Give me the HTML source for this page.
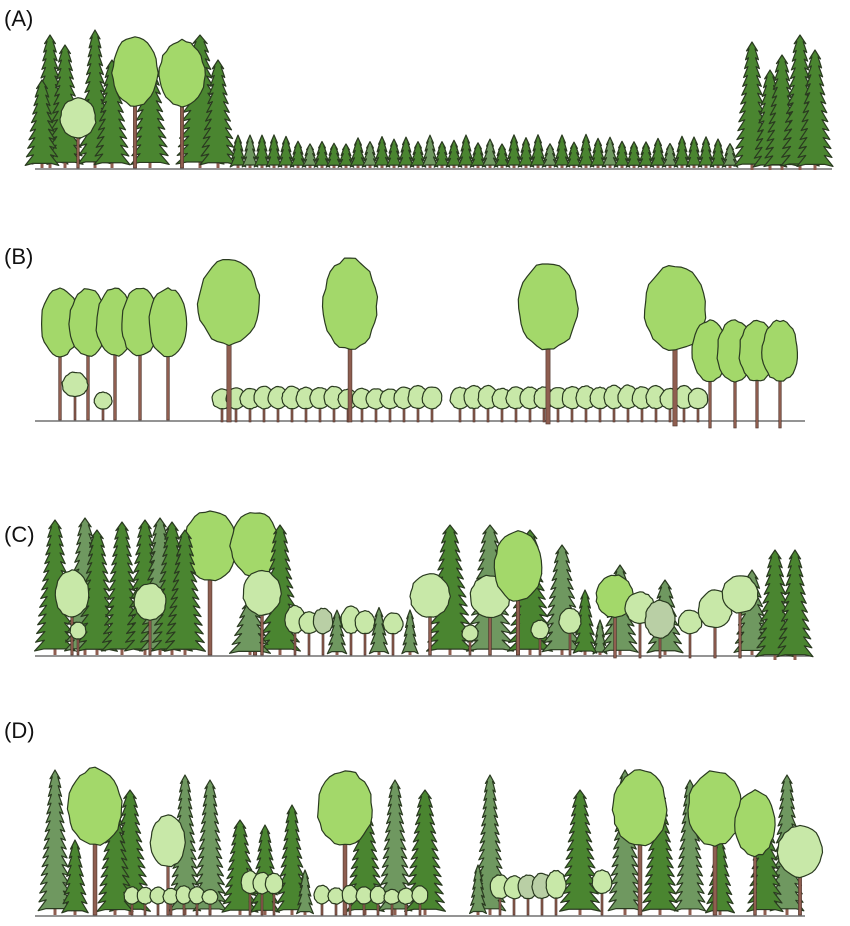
<!DOCTYPE html>
<html><head><meta charset="utf-8"><style>
html,body{margin:0;padding:0;background:#fff;width:850px;height:926px;overflow:hidden}
.lab{position:absolute;font-family:"Liberation Sans",sans-serif;font-size:22px;color:#111}
svg{position:absolute;left:0;top:0}
</style></head><body>
<div class="lab" style="left:4px;top:6px">(A)</div>
<div class="lab" style="left:4px;top:244px">(B)</div>
<div class="lab" style="left:4px;top:522px">(C)</div>
<div class="lab" style="left:4px;top:718px">(D)</div>
<svg id="s" width="850" height="926" xmlns="http://www.w3.org/2000/svg"></svg>
<script>
var S=document.getElementById('s'),out='';
var seed=7;function r(){seed=(seed*16807)%2147483647;return seed/2147483647;}
var DK='#4a8530',GR='#6f9860',DE='#a3d86a',PA='#c8e8a8',GP='#b9cfa5',TR='#8f5e50',OL='#2a3a20';
function con(x,g,top,w,f){w=w?w*1.2:Math.max(14,(g-top)*0.36);f=f||DK;var h=g-top,n=Math.max(4,Math.round(h/9)),L=[],R=[];
 for(var i=1;i<=n;i++){var y=top+h*i/n*0.97,ww=w/2*(0.25+0.75*i/n);L.push((x-ww)+','+y);L.push((x-ww*0.55)+','+(y-2));R.push((x+ww)+','+y);R.push((x+ww*0.55)+','+(y-2));}
 out+='<rect x="'+(x-1.5)+'" y="'+(g-10)+'" width="3" height="10" fill="'+TR+'"/>';
 out+='<polygon points="'+x+','+top+' '+R.join(' ')+' '+L.reverse().join(' ')+'" fill="'+f+'" stroke="'+OL+'" stroke-width="1.2" stroke-linejoin="round"/>';}
function dec(x,g,ct,cb,w,f){f=f||DE;var tw=Math.max(2,w*0.07);
 out+='<rect x="'+(x-tw/2)+'" y="'+(ct+(cb-ct)*0.7)+'" width="'+tw+'" height="'+(g-ct-(cb-ct)*0.7)+'" fill="'+TR+'" stroke="#4a3028" stroke-width="0.6"/>';
 var cx=x,cy=(ct+cb)/2,rx=w/2,ry=(cb-ct)/2,p=[];
 for(var i=0;i<32;i++){var a=i/32*Math.PI*2,k=0.95+r()*0.07;p.push((cx+Math.cos(a)*rx*k).toFixed(1)+','+(cy+Math.sin(a)*ry*k*(Math.sin(a)<0?1:0.9)).toFixed(1));}
 out+='<polygon points="'+p.join(' ')+'" fill="'+f+'" stroke="'+OL+'" stroke-width="1.2" stroke-linejoin="round"/>';}
function ground(y,x1,x2){out+='<line x1="'+x1+'" y1="'+y+'" x2="'+x2+'" y2="'+y+'" stroke="#555" stroke-width="1.2"/>';}
/* A */
ground(169,35,832);
[[50,35,30],[65,45,30],[95,30,28],[112,60,30],[150,50,32],[200,35,40],[218,60,30],[42,80,28]].forEach(function(t){con(t[0],168,t[1],t[2]);});
dec(78,168,98,140,36,PA);dec(135,168,36,110,46);dec(182,168,40,110,46);
for(var x=238;x<=738;x+=12){con(x,168,168-(24+r()*10),13,(x%5==0)?GR:DK);}
[[752,42,30],[770,70,28],[782,55,30],[800,35,32],[815,50,30]].forEach(function(t){con(t[0],170,t[1],t[2]);});
/* B */
ground(421,35,805);
[60,88,115,140,168].forEach(function(x){dec(x,420,288,360,38);});
dec(75,420,372,398,26,PA);dec(103,420,392,410,18,PA);
for(var x=222;x<=702;x+=14){if(x>438&&x<452)continue;dec(x,422,385+r()*4,410,20,PA);}
dec(229,422,258,350,62);dec(350,422,258,355,55);dec(548,424,262,355,60);dec(675,426,265,355,62);
[710,735,757,780].forEach(function(x){dec(x,428,320,385,36);});
/* C */
ground(656,35,812);
dec(210,655,510,585,55);dec(255,655,512,580,50);
[[55,520],[85,518,GR],[97,530],[122,522],[145,520],[160,518,GR],[172,522],[185,530],[280,525],[250,600,GR]].forEach(function(t){con(t[0],655,t[1],34,t[2]);});
dec(72,655,570,620,34,PA);dec(150,655,583,622,32,PA);dec(78,655,622,640,16,PA);dec(262,655,570,618,38,PA);
for(var x=295;x<=400;x+=14){if(r()<0.4)con(x,655,600+r()*15,16,GR);else dec(x,655,605+r()*8,635,20,(r()<0.5)?PA:GP);}
[[450,525],[490,525,GR],[530,530],[562,545,GR],[410,610,GR],[600,620,GR],[585,590]].forEach(function(t){con(t[0],655,t[1],null,t[2]);});
dec(430,655,573,620,40,PA);dec(490,655,575,620,40,PA);dec(518,655,530,605,48);dec(540,655,620,640,18,PA);dec(570,655,608,635,22,PA);dec(470,655,625,642,16,PA);
[[620,565],[665,580],[752,570]].forEach(function(t){con(t[0],655,t[1],30,GR);});
dec(615,658,575,620,38,DE);dec(640,658,592,625,30,PA);dec(660,658,600,640,30,GP);dec(690,658,610,635,24,PA);dec(715,658,590,630,34,PA);dec(740,658,575,615,36,PA);
con(775,660,550,32);con(795,660,550,30);
/* D */
ground(916,35,805);
[[55,770,28,GR],[130,790,34],[115,800,30],[185,775,26,GR],[210,780,28,GR],[240,820,30],[265,825,24],[292,805,26],[365,800,32],[395,780,28,GR],[425,790,34],[490,775,26,GR],[580,790,34],[625,770,28,GR],[660,790,30],[690,780,26,GR],[787,775,28,GR],[765,800,30]].forEach(function(t){con(t[0],915,t[1],t[2],t[3]);});
con(75,915,840,22);con(720,915,840,24);con(305,915,870,14,GR);con(478,915,865,14,GR);
dec(95,915,768,850,55);dec(168,915,815,870,35,PA);dec(345,915,770,850,55);dec(640,915,770,850,55);dec(715,915,770,850,55);dec(755,915,790,860,40);dec(800,915,825,880,45,PA);
for(var x=132;x<=222;x+=13)dec(x,915,885+r()*5,905,16,PA);
for(var x=250;x<=285;x+=12)dec(x,915,868+r()*6,895,18,PA);
for(var x=322;x<=420;x+=14)dec(x,915,885+r()*5,905,16,PA);
for(var x=500;x<=560;x+=14)dec(x,915,870+r()*6,900,20,(r()<0.5)?PA:GP);
dec(602,915,870,895,20,PA);
S.innerHTML=out;
</script>
</body></html>
